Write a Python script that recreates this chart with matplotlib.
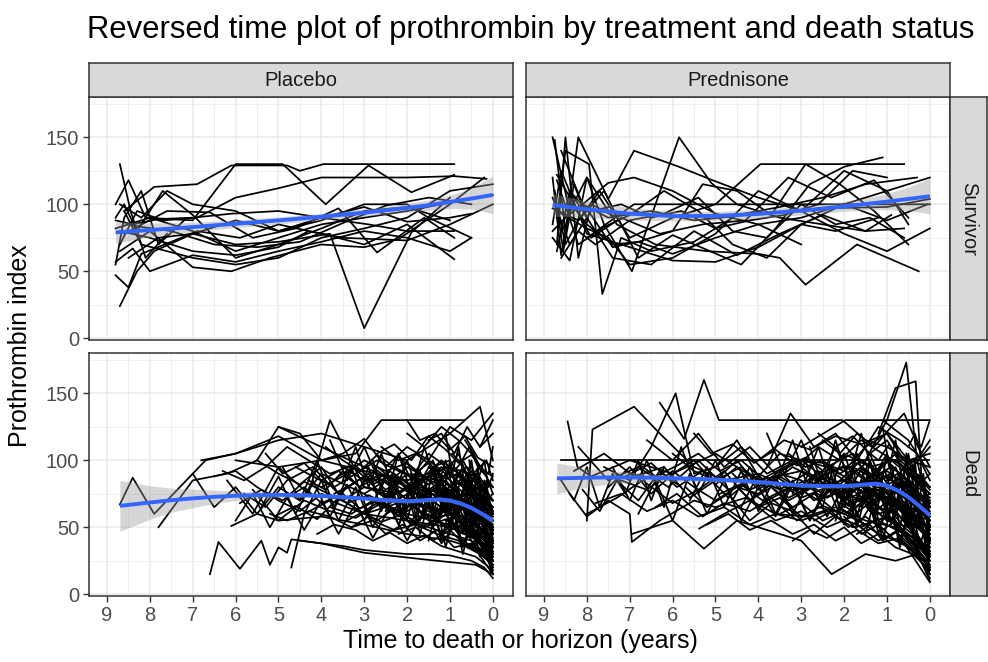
import numpy as np
import matplotlib.pyplot as plt

plt.rcParams['font.family'] = ['Liberation Sans', 'DejaVu Sans']

# --- Data (time to death/horizon in years, prothrombin index) ---

# Survivor / Placebo
surv_plac_t = [
    [8.8, 8.5, 8.1, 7.0, 6.0, 4.9, 3.9, 2.9, 1.9, 0.9],
    [8.6, 7.9, 6.9, 6.1, 4.8, 4.5, 3.95, 0.9],
    [8.8, 8.5, 8.2, 7.5, 6.9, 5.9, 5.0, 4.0, 3.0, 2.0, 0.9],
    [8.7, 8.3, 7.9, 7.0, 6.0, 5.0, 3.8, 3.0, 1.9, 1.0],
    [8.8, 8.6, 8.3, 7.7, 7.0, 6.0, 5.0, 4.0, 3.0, 2.0, 1.0],
    [8.7, 8.3, 7.7, 6.9, 6.0, 5.0, 4.0, 3.0, 2.0, 0.9, 0.15],
    [8.8, 8.4, 8.0, 7.0, 6.0, 5.0, 4.0, 3.0, 2.0, 1.0, 0.5],
    [8.7, 8.2, 7.6, 7.0, 6.0, 5.0, 4.0, 3.0, 2.0, 1.5, 0.5],
    [8.8, 8.4, 7.8, 7.0, 6.1, 5.0, 4.0, 2.9, 2.0, 0.9],
    [8.7, 8.0, 7.0, 6.0, 5.0, 4.3, 3.5, 2.0, 1.0, 0.0],
    [8.6, 8.2, 7.0, 6.0, 5.0, 4.0, 3.0, 2.0, 1.0, 0.0],
    [8.8, 8.0, 7.0, 6.0, 5.0, 4.0, 3.0, 2.0, 1.2, 0.0],
    [8.5, 7.8, 7.0, 6.0, 5.0, 4.0, 3.0, 2.0, 1.0, 0.5],
    [8.7, 8.0, 7.0, 6.1, 5.2, 4.0, 3.0, 2.2, 1.0, 0.2],
    [8.4, 7.5, 6.5, 5.5, 4.5, 3.5, 2.5, 1.5, 0.5],
    [8.6, 7.6, 6.6, 5.6, 4.6, 3.6, 2.7, 1.6, 0.9],
    [8.8, 8.6, 8.2, 7.8, 7.2],
    [8.7, 8.45, 8.1, 7.6],
]
surv_plac_y = [
    [100, 118, 90, 88, 130, 130, 100, 129, 109, 122],
    [95, 113, 115, 129, 129, 125, 130, 130],
    [47, 38, 63, 72, 80, 75, 85, 78, 70, 85, 59],
    [24, 50, 65, 78, 70, 72, 78, 7.5, 79, 105],
    [90, 100, 80, 110, 92, 60, 70, 82, 95, 98, 88],
    [70, 95, 88, 90, 105, 112, 120, 120, 120, 121, 119],
    [57, 67, 50, 62, 57, 65, 72, 80, 75, 65, 75],
    [100, 90, 110, 100, 95, 80, 88, 100, 100, 90, 75],
    [88, 85, 89, 90, 93, 95, 90, 85, 80, 80],
    [80, 75, 65, 62, 68, 80, 75, 73, 85, 100],
    [95, 70, 60, 55, 60, 75, 82, 90, 110, 115],
    [82, 90, 80, 65, 75, 85, 90, 95, 100, 107],
    [60, 75, 78, 88, 80, 90, 98, 87, 90, 93],
    [65, 80, 53, 50, 60, 70, 68, 74, 100, 120],
    [84, 80, 70, 68, 72, 86, 99, 105, 100],
    [78, 95, 94, 75, 82, 97, 64, 90, 75],
    [55, 90, 110, 70, 88],
    [130, 95, 60, 78],
]

# Survivor / Prednisone
surv_pred_t = [
    [8.8, 8.4, 8.0, 7.6, 6.95, 5.85, 5.1, 4.5, 3.5, 2.5, 1.5, 0.9],
    [8.75, 8.5, 8.2, 7.5, 6.9, 5.85, 5.07, 4.0, 3.0, 2.0, 1.0, 0.5],
    [8.7, 8.5, 7.95, 7.64, 7.2, 6.5, 5.5, 4.5, 3.5, 2.5, 1.5, 0.3],
    [8.8, 8.4, 8.0, 7.3, 6.4, 5.2, 4.0, 3.5, 2.9, 1.7, 0.26],
    [8.7, 8.5, 8.2, 7.7, 7.0, 6.0, 5.0, 3.95, 0.6],
    [8.0, 6.9, 5.0, 3.0, 1.0, 0.0],
    [8.7, 8.4, 8.1, 7.4, 6.5, 5.5, 4.5, 3.5, 2.5, 1.5, 0.6],
    [8.8, 8.6, 8.0, 7.0, 6.0, 5.0, 4.0, 3.0, 2.0, 1.0, 0.0],
    [8.7, 8.3, 7.9, 7.2, 6.3, 5.3, 4.3, 3.3, 2.3, 1.3, 0.5],
    [8.8, 8.2, 7.6, 6.8, 6.0, 5.2, 4.4, 3.6, 2.8, 2.0, 1.1],
    [8.6, 8.2, 7.8, 7.0, 6.2, 5.4, 4.6, 3.8, 3.0, 2.2, 1.4, 0.6],
    [8.8, 8.5, 8.1, 7.5, 6.9, 6.0, 5.0, 4.0, 3.0, 2.0, 1.0, 0.05],
    [8.6, 8.0, 7.5, 7.0, 6.0, 5.0, 4.0, 3.0, 2.0, 1.0, 0.0],
    [8.7, 8.2, 7.6, 7.0, 6.2, 5.4, 4.6, 3.8, 3.0, 2.2, 1.2],
    [8.4, 7.9, 7.4, 6.8, 6.0, 5.3, 4.5, 3.7, 2.9, 2.1, 1.3, 0.5],
    [8.8, 8.4, 7.9, 7.2, 6.5, 5.8, 5.0, 4.2, 3.4, 2.6, 1.8, 1.0],
    [8.6, 8.1, 7.5, 6.5, 5.5, 4.0, 2.5, 1.0, 0.0],
    [8.8, 8.6, 8.3, 8.0],
    [8.7, 8.5, 8.2, 7.9, 7.3],
    [8.75, 8.55, 8.35, 8.0, 7.4, 6.8, 6.0, 5.0, 4.0, 3.0],
]
surv_pred_y = [
    [150, 95, 120, 85, 50, 150, 116, 100, 90, 85, 80, 92],
    [148, 80, 150, 104, 140, 128, 118, 105, 95, 125, 110, 85],
    [90, 140, 130, 33, 75, 65, 72, 92, 98, 105, 115, 120],
    [75, 58, 120, 85, 70, 65, 63, 60, 40, 70, 50],
    [100, 70, 88, 110, 75, 90, 100, 130, 130],
    [75, 100, 100, 100, 100, 100],
    [65, 110, 95, 60, 55, 80, 62, 78, 92, 80, 82],
    [85, 125, 78, 68, 58, 57, 68, 85, 100, 110, 120],
    [122, 100, 75, 90, 78, 85, 88, 120, 105, 118, 90],
    [97, 88, 110, 60, 77, 66, 55, 82, 115, 128, 135],
    [60, 80, 70, 88, 93, 105, 80, 75, 100, 85, 90, 75],
    [80, 90, 100, 116, 120, 110, 93, 85, 90, 100, 88, 100],
    [93, 82, 75, 55, 60, 78, 110, 95, 78, 65, 82],
    [118, 70, 83, 92, 110, 95, 70, 60, 85, 80, 90],
    [110, 92, 68, 72, 80, 115, 110, 92, 130, 115, 95, 70],
    [105, 70, 95, 100, 90, 95, 82, 88, 92, 100, 125, 120],
    [140, 100, 90, 95, 88, 93, 97, 98, 104],
    [120, 62, 115, 90],
    [70, 150, 60, 100, 90],
    [110, 65, 100, 85, 70, 72, 63, 75, 85, 70],
]

# Dead / Placebo
dead_plac_t = [
    [8.7, 8.4, 7.9, 7.0, 6.7, 6.0, 5.0, 4.0, 3.0, 2.0, 1.0, 0.4, 0.0],
    [7.8, 7.0, 6.2, 5.5, 5.0, 4.0, 3.0, 2.0, 1.0, 0.5, 0.0],
    [6.6, 6.4, 5.9, 5.4, 5.2, 5.0, 4.8, 4.7, 4.0, 3.0, 1.6, 0.4, 0.0],
    [6.1, 5.5, 5.0, 4.5, 4.0, 3.0, 2.5, 2.0, 1.0, 0.5, 0.0],
    [4.7, 4.4, 3.8, 3.0, 2.0, 1.0, 0.5, 0.0],
    [6.0, 5.0, 4.0, 3.2, 2.6, 2.0, 1.2, 0.66],
    [6.8, 6.0, 5.0, 4.0, 3.0, 2.0, 1.0, 0.3, 0.0],
    [5.0, 4.5, 4.0, 3.5, 3.0, 2.5, 2.0, 1.5, 1.0, 0.5, 0.0],
    [7.0, 6.5, 6.0, 5.5, 5.0, 4.0, 3.0, 2.0, 1.0, 0.5, 0.0],
    [6.2, 5.6, 5.0, 4.3, 3.8, 3.0, 2.2, 1.4, 0.8, 0.3, 0.0],
    [5.5, 5.0, 4.5, 4.0, 3.5, 3.0, 2.5, 2.0, 1.5, 1.0, 0.5, 0.0],
    [4.5, 4.0, 3.5, 3.0, 2.0, 1.5, 1.0, 0.5, 0.2, 0.0],
    [3.5, 3.0, 2.5, 2.0, 1.5, 1.0, 0.6, 0.3, 0.0],
    [3.0, 2.6, 2.2, 1.8, 1.4, 1.0, 0.6, 0.3, 0.0],
    [2.5, 2.0, 1.5, 1.2, 0.8, 0.5, 0.2, 0.0],
    [2.0, 1.6, 1.2, 0.8, 0.5, 0.3, 0.1, 0.0],
    [1.9, 1.5, 1.1, 0.8, 0.5, 0.2, 0.0],
    [1.6, 1.2, 0.9, 0.6, 0.3, 0.1, 0.0],
    [1.3, 1.0, 0.7, 0.4, 0.2, 0.0],
    [1.0, 0.8, 0.5, 0.3, 0.1, 0.0],
    [0.8, 0.6, 0.4, 0.2, 0.0],
    [0.6, 0.4, 0.2, 0.0],
    [4.0, 3.5, 3.0, 2.5, 2.0, 1.5, 1.0, 0.5, 0.0],
    [5.8, 5.3, 4.8, 4.2, 3.6, 3.0, 2.4, 1.8, 1.2, 0.6, 0.0],
    [6.5, 6.0, 5.5, 5.0, 4.5, 4.0, 3.5, 3.0, 2.5, 2.0, 1.0, 0.0],
    [5.2, 4.8, 4.3, 3.8, 3.3, 2.8, 2.3, 1.8, 1.3, 0.8, 0.3, 0.0],
    [3.8, 3.3, 2.8, 2.3, 1.8, 1.3, 0.8, 0.4, 0.0],
    [2.8, 2.4, 2.0, 1.6, 1.2, 0.8, 0.4, 0.0],
    [1.5, 1.2, 0.9, 0.6, 0.3, 0.0],
    [2.2, 1.8, 1.4, 1.0, 0.6, 0.3, 0.0],
    [3.3, 2.9, 2.5, 2.1, 1.7, 1.3, 0.9, 0.5, 0.0],
    [4.3, 3.9, 3.5, 3.1, 2.7, 2.3, 1.9, 1.5, 1.1, 0.7, 0.3, 0.0],
    [1.2, 0.9, 0.6, 0.4, 0.2, 0.0],
    [0.9, 0.7, 0.5, 0.3, 0.15, 0.0],
    [0.5, 0.35, 0.2, 0.1, 0.0],
    [0.4, 0.25, 0.1, 0.0],
    [2.6, 2.2, 1.8, 1.4, 1.0, 0.7, 0.4, 0.0],
    [1.8, 1.5, 1.1, 0.7, 0.4, 0.0],
    [5.6, 5.0, 4.4, 3.8, 3.2, 2.6, 2.0, 1.4, 0.8, 0.0],
    [1.1, 0.85, 0.6, 0.35, 0.15, 0.0],
    [0.3, 0.15, 0.0],
    [0.7, 0.45, 0.25, 0.1, 0.0],
    [5.3, 4.9, 4.4, 4.0, 3.6, 3.1, 2.7, 2.2, 1.8, 1.3, 0.9, 0.5, 0.0],
    [4.8, 4.4, 4.0, 3.5, 3.1, 2.7, 2.3, 1.9, 1.5, 1.1, 0.7, 0.3, 0.0],
    [3.9, 3.5, 3.1, 2.7, 2.3, 1.9, 1.5, 1.1, 0.7, 0.3, 0.0],
    [3.4, 3.0, 2.6, 2.2, 1.8, 1.4, 1.0, 0.6, 0.3, 0.0],
    [2.9, 2.5, 2.1, 1.7, 1.3, 0.9, 0.5, 0.2, 0.0],
    [2.4, 2.0, 1.7, 1.3, 1.0, 0.7, 0.4, 0.2, 0.0],
    [2.1, 1.8, 1.5, 1.2, 0.9, 0.6, 0.3, 0.0],
    [1.7, 1.4, 1.1, 0.8, 0.5, 0.25, 0.0],
    [1.4, 1.1, 0.8, 0.5, 0.3, 0.1, 0.0],
    [1.2, 0.95, 0.7, 0.45, 0.25, 0.0],
    [0.95, 0.75, 0.55, 0.35, 0.15, 0.0],
    [0.75, 0.55, 0.35, 0.2, 0.0],
    [0.55, 0.4, 0.25, 0.1, 0.0],
    [0.45, 0.3, 0.15, 0.0],
    [0.35, 0.2, 0.1, 0.0],
    [0.25, 0.12, 0.0],
    [6.3, 5.8, 5.3, 4.8, 4.3, 3.8, 3.3, 2.8, 2.3, 1.8, 1.3, 0.8, 0.3, 0.0],
    [5.1, 4.6, 4.1, 3.6, 3.1, 2.6, 2.1, 1.6, 1.1, 0.6, 0.2, 0.0],
    [4.6, 4.2, 3.7, 3.2, 2.7, 2.2, 1.7, 1.2, 0.7, 0.3, 0.0],
    [3.7, 3.3, 2.9, 2.5, 2.1, 1.7, 1.3, 0.9, 0.5, 0.2, 0.0],
    [3.1, 2.7, 2.3, 1.9, 1.5, 1.1, 0.7, 0.4, 0.0],
    [2.7, 2.3, 1.9, 1.5, 1.1, 0.8, 0.5, 0.2, 0.0],
    [2.3, 1.9, 1.5, 1.1, 0.8, 0.5, 0.2, 0.0],
    [1.9, 1.6, 1.3, 1.0, 0.7, 0.4, 0.2, 0.0],
    [1.5, 1.25, 1.0, 0.75, 0.5, 0.25, 0.0],
    [1.0, 0.8, 0.6, 0.4, 0.2, 0.0],
    [0.85, 0.65, 0.45, 0.25, 0.1, 0.0],
    [0.65, 0.45, 0.3, 0.15, 0.0],
    [4.1, 3.7, 3.2, 2.8, 2.4, 2.0, 1.6, 1.2, 0.8, 0.4, 0.0],
    [5.9, 5.4, 4.9, 4.4, 3.9, 3.4, 2.9, 2.4, 1.9, 1.4, 0.9, 0.4, 0.0],
    [2.0, 1.7, 1.35, 1.0, 0.65, 0.35, 0.0],
    [3.6, 3.2, 2.8, 2.4, 2.0, 1.6, 1.2, 0.8, 0.4, 0.0],
    [1.3, 1.05, 0.8, 0.55, 0.3, 0.0],
    [0.6, 0.42, 0.25, 0.1, 0.0],
    [2.5, 2.2, 1.9, 1.6, 1.3, 1.0, 0.7, 0.4, 0.15, 0.0],
    [0.9, 0.7, 0.5, 0.3, 0.1, 0.0],
    [3.2, 2.9, 2.6, 2.3, 2.0, 1.7, 1.4, 1.1, 0.8, 0.5, 0.2, 0.0],
    [2.8, 2.5, 2.2, 1.9, 1.6, 1.3, 1.0, 0.7, 0.4, 0.2, 0.0],
    [2.2, 1.95, 1.7, 1.45, 1.2, 0.95, 0.7, 0.45, 0.2, 0.0],
    [1.8, 1.6, 1.4, 1.2, 1.0, 0.8, 0.6, 0.4, 0.2, 0.0],
    [1.5, 1.3, 1.1, 0.9, 0.7, 0.5, 0.3, 0.15, 0.0],
    [1.1, 0.95, 0.8, 0.65, 0.5, 0.35, 0.2, 0.0],
    [4.4, 4.0, 3.6, 3.2, 2.8, 2.4, 2.0, 1.6, 1.2, 0.8, 0.4, 0.0],
    [3.8, 3.4, 3.0, 2.6, 2.2, 1.8, 1.4, 1.0, 0.6, 0.3, 0.0],
    [5.4, 5.0, 4.6, 4.2, 3.8, 3.4, 3.0, 2.6, 2.2, 1.8, 1.4, 1.0, 0.6, 0.2, 0.0],
    [4.9, 4.5, 4.1, 3.7, 3.3, 2.9, 2.5, 2.1, 1.7, 1.3, 0.9, 0.5, 0.0],
    [0.8, 0.65, 0.5, 0.35, 0.2, 0.1, 0.0],
    [0.55, 0.45, 0.35, 0.25, 0.15, 0.05, 0.0],
    [2.0, 1.8, 1.6, 1.4, 1.2, 1.0, 0.8, 0.6, 0.4, 0.2, 0.0],
    [1.3, 1.15, 1.0, 0.85, 0.7, 0.55, 0.4, 0.25, 0.1, 0.0],
    [6.0, 5.6, 5.2, 4.8, 4.4, 4.0, 3.6, 3.2, 2.8, 2.4, 2.0, 1.6, 1.2, 0.8, 0.4, 0.0],
    [3.5, 3.2, 2.9, 2.6, 2.3, 2.0, 1.7, 1.4, 1.1, 0.8, 0.5, 0.2, 0.0],
    [0.45, 0.35, 0.25, 0.15, 0.05, 0.0],
    [2.5, 2.3, 2.1, 1.9, 1.7, 1.5, 1.3, 1.1, 0.9, 0.7, 0.5, 0.3, 0.1, 0.0],
]
dead_plac_y = [
    [67, 87, 60, 90, 100, 105, 118, 100, 92, 85, 95, 88, 60],
    [50, 85, 90, 100, 125, 110, 95, 80, 75, 60, 35],
    [15, 39, 19, 40, 22, 35, 31, 41, 38, 31, 26, 22, 15],
    [51, 60, 80, 70, 90, 75, 85, 70, 60, 50, 40],
    [20, 60, 70, 60, 55, 45, 40, 25],
    [100, 95, 100, 105, 130, 130, 130, 130],
    [100, 105, 115, 120, 110, 100, 120, 140, 100],
    [125, 120, 100, 105, 116, 95, 110, 100, 125, 115, 135],
    [90, 65, 80, 60, 55, 58, 52, 45, 40, 35, 28],
    [85, 60, 95, 75, 130, 80, 75, 90, 65, 55, 45],
    [100, 90, 82, 95, 70, 80, 75, 65, 72, 60, 48, 30],
    [40, 38, 36, 33, 30, 30, 29, 25, 20, 12],
    [95, 85, 90, 80, 70, 78, 60, 50, 40],
    [75, 65, 85, 70, 80, 65, 70, 55, 62],
    [60, 70, 55, 65, 45, 50, 35, 25],
    [120, 110, 125, 115, 105, 95, 90, 110],
    [85, 100, 90, 105, 80, 70, 50],
    [75, 85, 65, 70, 60, 55, 45],
    [90, 80, 95, 75, 65, 55],
    [70, 60, 75, 55, 40, 30],
    [100, 90, 85, 70, 60],
    [50, 45, 30, 18],
    [80, 88, 100, 92, 98, 85, 90, 75, 70],
    [75, 65, 85, 95, 75, 88, 68, 78, 65, 55, 50],
    [88, 92, 80, 70, 62, 75, 70, 60, 65, 55, 50, 35],
    [60, 55, 62, 58, 50, 55, 48, 52, 45, 40, 30, 22],
    [65, 60, 70, 62, 68, 58, 60, 52, 38],
    [95, 85, 95, 88, 100, 90, 80, 65],
    [115, 120, 105, 125, 110, 120],
    [45, 50, 40, 48, 35, 30, 25],
    [50, 58, 45, 52, 40, 48, 35, 38, 15],
    [85, 78, 92, 80, 95, 85, 90, 82, 88, 76, 70, 65],
    [60, 70, 62, 50, 45, 32],
    [80, 88, 78, 85, 70, 75],
    [95, 85, 100, 80, 90],
    [65, 55, 45, 38],
    [110, 100, 105, 95, 100, 85, 78, 55],
    [65, 75, 85, 70, 62, 48],
    [78, 55, 70, 62, 57, 68, 60, 55, 50, 40],
    [55, 60, 48, 42, 30, 20],
    [110, 120, 130],
    [40, 35, 30, 25, 15],
    [105, 90, 98, 85, 92, 80, 88, 76, 84, 72, 78, 65, 50],
    [72, 80, 68, 75, 64, 70, 60, 67, 58, 62, 52, 45, 35],
    [110, 100, 92, 104, 95, 88, 98, 86, 92, 80, 70],
    [55, 62, 70, 58, 66, 75, 62, 68, 55, 48],
    [80, 72, 78, 90, 82, 70, 76, 60, 52],
    [65, 58, 50, 56, 48, 52, 40, 35, 28],
    [100, 92, 105, 98, 88, 95, 85, 80],
    [70, 78, 66, 74, 60, 52, 42],
    [88, 95, 82, 78, 68, 62, 58],
    [45, 52, 40, 46, 35, 22],
    [105, 98, 110, 95, 88, 75],
    [72, 65, 70, 58, 45],
    [85, 78, 82, 70, 62],
    [58, 50, 42, 30],
    [90, 82, 75, 70],
    [68, 60, 48],
    [92, 85, 95, 110, 100, 90, 96, 82, 90, 78, 85, 70, 62, 55],
    [58, 66, 56, 72, 62, 54, 60, 50, 56, 44, 38, 25],
    [95, 88, 80, 90, 100, 92, 84, 95, 80, 72, 65],
    [75, 82, 90, 78, 86, 72, 80, 68, 62, 50, 40],
    [62, 55, 64, 52, 60, 50, 56, 42, 30],
    [105, 112, 100, 118, 108, 98, 104, 92, 88],
    [82, 75, 88, 80, 72, 78, 62, 50],
    [52, 60, 55, 62, 50, 45, 40, 32],
    [95, 88, 80, 90, 75, 68, 60],
    [65, 72, 80, 68, 58, 50],
    [48, 55, 42, 38, 30, 25],
    [115, 105, 95, 100, 85],
    [45, 52, 48, 40, 46, 38, 44, 36, 32, 28, 18],
    [68, 78, 70, 84, 76, 68, 74, 66, 72, 62, 68, 58, 48],
    [130, 115, 120, 108, 118, 102, 95],
    [88, 96, 84, 92, 80, 88, 76, 84, 70, 58],
    [78, 70, 64, 72, 55, 38],
    [35, 40, 30, 25, 20],
    [70, 76, 68, 80, 72, 64, 70, 60, 55, 45],
    [92, 100, 88, 96, 85, 80],
    [70, 95, 62, 88, 55, 92, 68, 100, 60, 85, 50, 40],
    [100, 70, 105, 75, 110, 80, 95, 65, 90, 55, 30],
    [50, 80, 45, 75, 40, 70, 35, 60, 30, 22],
    [90, 60, 95, 65, 100, 70, 85, 55, 70, 45],
    [40, 65, 35, 60, 30, 55, 28, 40, 15],
    [120, 90, 110, 80, 100, 70, 85, 60],
    [60, 85, 55, 80, 50, 78, 48, 72, 45, 65, 40, 28],
    [115, 85, 110, 80, 105, 78, 100, 70, 90, 65, 50],
    [65, 88, 60, 85, 58, 82, 55, 80, 52, 76, 50, 70, 45, 38, 30],
    [95, 70, 100, 65, 95, 60, 90, 58, 85, 55, 80, 50, 35],
    [60, 85, 50, 75, 45, 55, 35],
    [100, 70, 95, 65, 85, 55, 45],
    [75, 55, 80, 58, 85, 60, 78, 52, 70, 45, 35],
    [55, 75, 50, 72, 45, 68, 42, 60, 35, 25],
    [55, 75, 50, 72, 48, 70, 45, 68, 42, 65, 40, 62, 38, 55, 35, 25],
    [85, 110, 80, 105, 75, 100, 72, 95, 70, 90, 65, 80, 60],
    [75, 60, 70, 50, 55, 40],
    [62, 85, 58, 80, 55, 78, 52, 75, 50, 70, 48, 60, 40, 30],
]

# Dead / Prednisone
dead_pred_t = [
    [8.45, 8.22, 7.9, 7.0, 6.0, 5.0, 4.0, 3.0, 2.0, 1.0, 0.5, 0.0],
    [8.6, 4.5, 0.02],
    [8.0, 7.87, 6.9, 6.3, 5.5, 4.8, 4.0, 3.2, 2.4, 1.6, 0.8, 0.0],
    [8.4, 8.0, 7.5, 7.0, 6.95, 6.3, 5.5, 5.0, 4.3, 3.6, 2.9, 2.2, 1.5, 0.8, 0.0],
    [7.6, 7.0, 6.5, 5.93, 5.5, 5.0, 4.5, 4.0, 3.5, 3.0, 2.5, 2.0, 1.5, 1.0, 0.5, 0.0],
    [6.3, 5.73, 5.27, 4.92, 2.04, 1.5, 1.0, 0.5, 0.0],
    [3.0, 1.97, 0.02],
    [6.95, 6.0, 5.27, 4.5, 3.8, 3.0, 2.29, 1.5, 0.8, 0.3, 0.0],
    [5.38, 4.8, 4.2, 3.6, 3.0, 2.4, 1.8, 1.2, 0.6, 0.0],
    [1.5, 1.0, 0.55, 0.3, 0.0],
    [1.2, 0.8, 0.33, 0.2, 0.0],
    [3.8, 3.25, 2.7, 2.2, 1.7, 1.2, 0.7, 0.3, 0.0],
    [7.2, 6.6, 6.0, 5.5, 5.0, 4.5, 4.0, 3.5, 3.0, 2.5, 2.0, 1.5, 1.0, 0.5, 0.0],
    [8.3, 7.6, 6.9, 6.2, 5.6, 5.0, 4.4, 3.8, 3.2, 2.6, 2.0, 1.4, 0.8, 0.3, 0.0],
    [4.5, 4.0, 3.5, 3.0, 2.5, 2.0, 1.5, 1.0, 0.5, 0.2, 0.0],
    [3.5, 3.0, 2.5, 2.0, 1.5, 1.0, 0.6, 0.3, 0.0],
    [2.8, 2.4, 2.0, 1.6, 1.2, 0.8, 0.4, 0.0],
    [2.2, 1.8, 1.4, 1.0, 0.6, 0.3, 0.0],
    [1.8, 1.4, 1.0, 0.7, 0.4, 0.2, 0.0],
    [1.3, 1.0, 0.7, 0.4, 0.2, 0.0],
    [1.0, 0.75, 0.5, 0.25, 0.0],
    [0.7, 0.5, 0.3, 0.15, 0.0],
    [0.5, 0.35, 0.2, 0.0],
    [5.0, 4.4, 3.8, 3.2, 2.6, 2.0, 1.4, 0.8, 0.4, 0.0],
    [6.6, 6.0, 5.4, 4.8, 4.2, 3.6, 3.0, 2.4, 1.8, 1.2, 0.6, 0.0],
    [4.2, 3.7, 3.2, 2.7, 2.2, 1.7, 1.2, 0.7, 0.3, 0.0],
    [3.2, 2.8, 2.4, 2.0, 1.6, 1.2, 0.8, 0.4, 0.0],
    [2.5, 2.1, 1.7, 1.3, 0.9, 0.5, 0.2, 0.0],
    [1.6, 1.3, 1.0, 0.7, 0.4, 0.15, 0.0],
    [0.9, 0.6, 0.35, 0.15, 0.0],
    [7.8, 7.2, 6.6, 6.0, 5.4, 4.8, 4.2, 3.6, 3.0, 2.4, 1.8, 1.2, 0.6, 0.0],
    [8.2, 7.5, 6.8, 6.1, 5.4, 4.7, 4.0, 3.3, 2.6, 1.9, 1.2, 0.5, 0.0],
    [5.7, 5.2, 4.7, 4.2, 3.7, 3.2, 2.7, 2.2, 1.7, 1.2, 0.7, 0.2, 0.0],
    [0.4, 0.25, 0.1, 0.0],
    [0.3, 0.2, 0.1, 0.0],
    [1.1, 0.9, 0.6, 0.4, 0.2, 0.0],
    [4.0, 3.4, 2.8, 2.2, 1.6, 1.0, 0.5, 0.0],
    [2.0, 1.6, 1.2, 0.8, 0.5, 0.25, 0.0],
    [6.0, 5.5, 5.0, 4.5, 4.0, 3.5, 3.0, 2.5, 2.0, 1.5, 1.0, 0.5, 0.0],
    [3.6, 3.1, 2.6, 2.1, 1.6, 1.1, 0.6, 0.3, 0.0],
    [7.5, 7.0, 6.5, 6.0, 5.5, 5.0, 4.5, 4.0, 3.5, 3.0, 2.5, 2.0, 1.5, 1.0, 0.5, 0.0],
    [8.0, 7.3, 6.7, 6.0, 5.4, 4.8, 4.2, 3.6, 3.0, 2.4, 1.8, 1.2, 0.6, 0.0],
    [6.9, 6.4, 5.9, 5.4, 4.9, 4.4, 3.9, 3.4, 2.9, 2.4, 1.9, 1.4, 0.9, 0.4, 0.0],
    [6.4, 5.9, 5.3, 4.8, 4.2, 3.7, 3.1, 2.6, 2.0, 1.5, 1.0, 0.5, 0.0],
    [5.5, 5.1, 4.6, 4.1, 3.6, 3.1, 2.6, 2.1, 1.6, 1.1, 0.6, 0.2, 0.0],
    [4.6, 4.2, 3.7, 3.3, 2.8, 2.4, 1.9, 1.5, 1.0, 0.6, 0.2, 0.0],
    [3.9, 3.5, 3.1, 2.7, 2.3, 1.9, 1.5, 1.1, 0.7, 0.3, 0.0],
    [3.3, 2.9, 2.5, 2.1, 1.7, 1.3, 0.9, 0.5, 0.2, 0.0],
    [2.7, 2.3, 1.9, 1.5, 1.1, 0.8, 0.5, 0.25, 0.0],
    [2.3, 2.0, 1.6, 1.3, 0.9, 0.6, 0.3, 0.0],
    [1.9, 1.6, 1.3, 1.0, 0.7, 0.4, 0.2, 0.0],
    [1.5, 1.2, 0.95, 0.7, 0.45, 0.2, 0.0],
    [1.25, 1.0, 0.75, 0.5, 0.3, 0.1, 0.0],
    [0.95, 0.75, 0.55, 0.35, 0.15, 0.0],
    [0.8, 0.6, 0.4, 0.2, 0.0],
    [0.6, 0.45, 0.3, 0.15, 0.0],
    [0.45, 0.3, 0.15, 0.0],
    [0.35, 0.2, 0.08, 0.0],
    [4.9, 4.4, 3.9, 3.4, 2.9, 2.4, 1.9, 1.4, 0.9, 0.4, 0.0],
    [3.0, 2.6, 2.2, 1.8, 1.4, 1.0, 0.6, 0.3, 0.0],
    [2.1, 1.8, 1.5, 1.2, 0.9, 0.6, 0.3, 0.0],
    [1.4, 1.15, 0.9, 0.65, 0.4, 0.2, 0.0],
    [7.1, 6.5, 5.9, 5.3, 4.7, 4.1, 3.5, 2.9, 2.3, 1.7, 1.1, 0.5, 0.0],
    [8.1, 7.7, 7.3, 6.8, 6.3, 5.8],
    [5.2, 4.7, 4.2, 3.7, 3.2, 2.7, 2.2, 1.7, 1.2, 0.7, 0.3, 0.0],
    [2.6, 2.2, 1.8, 1.4, 1.0, 0.7, 0.4, 0.15, 0.0],
    [1.7, 1.4, 1.1, 0.8, 0.5, 0.25, 0.0],
    [1.0, 0.8, 0.6, 0.4, 0.2, 0.0],
    [0.7, 0.5, 0.3, 0.1, 0.0],
    [3.5, 3.0, 2.5, 2.0, 1.5, 1.0, 0.5, 0.0],
    [3.2, 2.9, 2.6, 2.3, 2.0, 1.7, 1.4, 1.1, 0.8, 0.5, 0.2, 0.0],
    [2.8, 2.5, 2.2, 1.9, 1.6, 1.3, 1.0, 0.7, 0.4, 0.2, 0.0],
    [2.2, 1.95, 1.7, 1.45, 1.2, 0.95, 0.7, 0.45, 0.2, 0.0],
    [1.8, 1.6, 1.4, 1.2, 1.0, 0.8, 0.6, 0.4, 0.2, 0.0],
    [1.5, 1.3, 1.1, 0.9, 0.7, 0.5, 0.3, 0.15, 0.0],
    [1.1, 0.95, 0.8, 0.65, 0.5, 0.35, 0.2, 0.0],
    [4.4, 4.0, 3.6, 3.2, 2.8, 2.4, 2.0, 1.6, 1.2, 0.8, 0.4, 0.0],
    [3.8, 3.4, 3.0, 2.6, 2.2, 1.8, 1.4, 1.0, 0.6, 0.3, 0.0],
    [5.6, 5.2, 4.8, 4.4, 4.0, 3.6, 3.2, 2.8, 2.4, 2.0, 1.6, 1.2, 0.8, 0.4, 0.0],
    [7.4, 7.0, 6.6, 6.2, 5.8, 5.4, 5.0, 4.6, 4.2, 3.8],
    [6.8, 6.4, 6.0, 5.6, 5.2, 4.8, 4.4, 4.0, 3.6, 3.2, 2.8, 2.4],
    [0.8, 0.65, 0.5, 0.35, 0.2, 0.1, 0.0],
    [0.55, 0.45, 0.35, 0.25, 0.15, 0.05, 0.0],
    [2.0, 1.8, 1.6, 1.4, 1.2, 1.0, 0.8, 0.6, 0.4, 0.2, 0.0],
    [1.3, 1.15, 1.0, 0.85, 0.7, 0.55, 0.4, 0.25, 0.1, 0.0],
    [3.5, 3.2, 2.9, 2.6, 2.3, 2.0, 1.7, 1.4, 1.1, 0.8, 0.5, 0.2, 0.0],
    [8.6, 8.3, 8.0, 7.7, 7.4, 7.1, 6.8, 6.5, 6.2],
    [2.5, 2.3, 2.1, 1.9, 1.7, 1.5, 1.3, 1.1, 0.9, 0.7, 0.5, 0.3, 0.1, 0.0],
]
dead_pred_y = [
    [129, 95, 88, 100, 90, 105, 85, 92, 80, 88, 75, 60],
    [100, 100, 100],
    [55, 123, 140, 120, 95, 85, 90, 78, 82, 70, 60, 45],
    [75, 58, 70, 60, 39, 55, 70, 65, 72, 60, 58, 65, 55, 50, 35],
    [95, 85, 110, 150, 90, 95, 115, 88, 105, 100, 98, 92, 110, 120, 95, 80],
    [143, 116, 160, 130, 130, 115, 110, 100, 95],
    [110, 130, 130],
    [45, 55, 34, 55, 48, 40, 15, 30, 25, 30, 12],
    [49, 60, 70, 55, 62, 50, 58, 45, 38, 9],
    [100, 130, 173, 100, 60],
    [120, 154, 159, 90, 40],
    [95, 135, 110, 120, 100, 125, 115, 105, 85],
    [85, 78, 92, 80, 70, 80, 75, 88, 78, 82, 85, 75, 80, 70, 55],
    [92, 105, 88, 95, 72, 85, 95, 80, 95, 85, 75, 88, 78, 65, 70],
    [80, 65, 72, 58, 66, 60, 70, 55, 50, 40, 28],
    [60, 68, 55, 62, 52, 58, 45, 35, 20],
    [85, 95, 88, 100, 92, 105, 95, 110],
    [70, 62, 75, 68, 55, 50, 42],
    [95, 88, 100, 90, 80, 72, 65],
    [60, 70, 58, 50, 40, 25],
    [85, 90, 78, 70, 55],
    [65, 55, 60, 48, 35],
    [110, 120, 105, 115],
    [95, 110, 90, 100, 85, 105, 95, 100, 88, 75],
    [115, 100, 120, 95, 110, 90, 100, 95, 105, 90, 80, 65],
    [70, 80, 65, 75, 62, 72, 60, 65, 52, 45],
    [40, 48, 42, 50, 38, 45, 35, 30, 18],
    [115, 105, 120, 110, 125, 115, 100, 90],
    [50, 55, 42, 48, 35, 28, 15],
    [100, 92, 85, 78, 68],
    [68, 75, 62, 70, 58, 65, 52, 60, 55, 62, 50, 55, 45, 30],
    [110, 85, 95, 80, 100, 78, 88, 70, 82, 72, 80, 62, 50],
    [80, 65, 75, 55, 68, 62, 45, 58, 52, 40, 48, 30, 22],
    [75, 68, 60, 50],
    [45, 38, 30, 20],
    [130, 125, 135, 120, 110, 130],
    [100, 115, 108, 118, 112, 120, 100, 105],
    [58, 45, 52, 40, 35, 28, 10],
    [105, 92, 85, 100, 80, 92, 75, 88, 70, 85, 72, 65, 58],
    [88, 78, 92, 82, 95, 80, 88, 70, 75],
    [80, 95, 75, 90, 100, 82, 95, 78, 90, 85, 72, 88, 78, 70, 62, 50],
    [60, 72, 85, 68, 78, 92, 70, 85, 72, 80, 68, 75, 60, 40],
    [100, 88, 96, 105, 92, 100, 86, 95, 102, 90, 96, 84, 90, 78, 70],
    [65, 75, 58, 68, 62, 72, 55, 65, 60, 52, 58, 45, 32],
    [120, 105, 112, 98, 108, 96, 110, 100, 115, 105, 95, 88, 80],
    [90, 78, 85, 72, 80, 88, 76, 82, 70, 64, 52, 40],
    [68, 75, 82, 70, 78, 66, 74, 62, 68, 55, 48],
    [105, 95, 100, 90, 98, 88, 95, 85, 78, 72],
    [55, 62, 50, 58, 48, 55, 42, 35, 25],
    [92, 85, 95, 82, 90, 78, 70, 62],
    [75, 82, 70, 78, 65, 58, 50, 38],
    [108, 100, 112, 98, 90, 85, 78],
    [62, 55, 60, 50, 44, 35, 28],
    [88, 80, 85, 72, 65, 55],
    [50, 45, 38, 30, 22],
    [95, 100, 88, 80, 75],
    [70, 62, 55, 45],
    [115, 105, 100, 95],
    [75, 82, 70, 78, 85, 72, 80, 68, 74, 60, 48],
    [78, 70, 76, 64, 72, 60, 66, 52, 42],
    [65, 58, 66, 55, 62, 50, 42, 30],
    [82, 90, 78, 85, 70, 62, 52],
    [88, 98, 80, 92, 72, 88, 78, 90, 76, 84, 72, 66, 58],
    [78, 62, 85, 70, 92, 80],
    [52, 60, 48, 55, 45, 52, 40, 48, 38, 42, 30, 20],
    [120, 110, 118, 105, 115, 100, 92, 85, 90],
    [45, 52, 40, 47, 38, 30, 18],
    [72, 80, 68, 75, 62, 55],
    [40, 35, 28, 20, 15],
    [92, 100, 88, 96, 85, 92, 80, 68],
    [75, 100, 70, 95, 65, 105, 72, 98, 65, 88, 55, 45],
    [110, 80, 115, 85, 120, 88, 105, 75, 95, 60, 40],
    [55, 85, 50, 80, 45, 75, 40, 65, 35, 25],
    [95, 65, 100, 70, 105, 75, 90, 60, 75, 50],
    [45, 70, 40, 65, 35, 60, 30, 45, 18],
    [125, 95, 115, 85, 105, 75, 90, 65],
    [65, 90, 60, 85, 55, 82, 52, 78, 50, 70, 45, 32],
    [120, 90, 115, 85, 110, 82, 105, 75, 95, 70, 55],
    [70, 95, 65, 92, 62, 88, 60, 85, 58, 80, 55, 75, 50, 42, 30],
    [95, 70, 100, 65, 110, 75, 100, 70, 95, 68],
    [60, 85, 55, 90, 60, 85, 55, 80, 58, 82, 55, 78],
    [65, 90, 55, 80, 50, 60, 40],
    [105, 75, 100, 70, 90, 60, 50],
    [80, 60, 85, 62, 90, 65, 82, 58, 75, 50, 38],
    [60, 80, 55, 78, 50, 72, 46, 65, 38, 28],
    [90, 115, 85, 110, 80, 105, 78, 100, 75, 95, 70, 85, 65],
    [85, 70, 95, 65, 90, 75, 100, 70, 95],
    [65, 90, 62, 85, 58, 82, 55, 80, 52, 75, 50, 65, 42, 32],
]

# loess smooth: time, fit, lower, upper
surv_plac_smooth_t = [8.8, 8.0, 7.0, 6.0, 5.0, 4.0, 3.0, 2.5, 2.0, 1.5, 1.0, 0.5, 0.0]
surv_plac_fit = [79, 80.8, 83, 85.5, 88, 90.7, 93.8, 95.5, 97.3, 99.3, 101.8, 104.3, 107]
surv_plac_lo = [71, 75.5, 79.5, 82.6, 85.4, 88.2, 91.0, 92.6, 94.0, 95.5, 96.8, 96.5, 93]
surv_plac_hi = [87, 86.1, 86.5, 88.4, 90.6, 93.2, 96.6, 98.4, 100.6, 103.1, 106.8, 112.1, 121]

surv_pred_smooth_t = [8.8, 8.0, 7.0, 6.0, 5.0, 4.0, 3.0, 2.5, 2.0, 1.5, 1.0, 0.5, 0.0]
surv_pred_fit = [99.5, 96.3, 93, 91.2, 91.3, 92.8, 95.3, 96.8, 98.5, 100.2, 102, 104, 106]
surv_pred_lo = [91, 90.3, 88.3, 87.6, 88.0, 89.5, 92.0, 93.4, 94.8, 95.8, 96.0, 95.2, 93]
surv_pred_hi = [108, 102.3, 97.7, 94.8, 94.6, 96.1, 98.6, 100.2, 102.2, 104.6, 108, 112.8, 119.5]

dead_plac_smooth_t = [8.7, 8.0, 7.5, 7.0, 6.5, 6.0, 5.5, 5.0, 4.5, 4.0, 3.5, 3.0, 2.5, 2.0,
                      1.75, 1.5, 1.25, 1.0, 0.75, 0.5, 0.25, 0.0]
dead_plac_fit = [66, 68.5, 70.2, 71.6, 72.7, 73.5, 74.0, 74.2, 74.0, 73.4, 72.5, 71.5, 70.3,
                 69.5, 69.8, 70.5, 70.8, 70.0, 67.8, 64.5, 60.0, 55.0]
dead_plac_lo = [47, 56, 61.2, 64.6, 67.7, 70.0, 71.5, 72.2, 72.3, 71.9, 71.0, 70.0, 68.8,
                68.0, 68.3, 69.0, 69.3, 68.5, 66.3, 63.0, 58.3, 52.5]
dead_plac_hi = [85, 81, 79.2, 78.6, 77.7, 77.0, 76.5, 76.2, 75.7, 74.9, 74.0, 73.0, 71.8,
                71.0, 71.3, 72.0, 72.3, 71.5, 69.3, 66.0, 61.7, 57.5]

dead_pred_smooth_t = [8.7, 8.0, 7.5, 7.0, 6.5, 6.0, 5.5, 5.0, 4.5, 4.0, 3.5, 3.0, 2.5, 2.0,
                      1.75, 1.5, 1.25, 1.0, 0.75, 0.5, 0.25, 0.0]
dead_pred_fit = [86.5, 87, 87.2, 87.2, 87, 86.6, 86.2, 85.6, 84.8, 83.8, 82.5, 81.3, 80.7,
                 80.8, 81.3, 82.0, 82.6, 81.0, 77.5, 72.5, 66.0, 59.0]
dead_pred_lo = [75, 80, 82.2, 83.2, 84, 84.1, 84.2, 83.8, 83.2, 82.3, 81.0, 79.8, 79.2,
                79.3, 79.8, 80.5, 81.1, 79.5, 76.0, 71.0, 64.3, 57.0]
dead_pred_hi = [98, 94, 92.2, 91.2, 90, 89.1, 88.2, 87.4, 86.4, 85.3, 84.0, 82.8, 82.2,
                82.3, 82.8, 83.5, 84.1, 82.5, 79.0, 74.0, 67.7, 61.0]

col_labels = ['Placebo', 'Prednisone']
row_labels = ['Survivor', 'Dead']

panels = {
    (0, 0): (surv_plac_t, surv_plac_y, surv_plac_smooth_t, surv_plac_fit, surv_plac_lo, surv_plac_hi),
    (0, 1): (surv_pred_t, surv_pred_y, surv_pred_smooth_t, surv_pred_fit, surv_pred_lo, surv_pred_hi),
    (1, 0): (dead_plac_t, dead_plac_y, dead_plac_smooth_t, dead_plac_fit, dead_plac_lo, dead_plac_hi),
    (1, 1): (dead_pred_t, dead_pred_y, dead_pred_smooth_t, dead_pred_fit, dead_pred_lo, dead_pred_hi),
}

# --- Layout in pixels ---
W, H = 988, 662
fig = plt.figure(figsize=(W / 100, H / 100), dpi=100)


def px_axes(x0, y0, x1, y1):
    return fig.add_axes([x0 / W, 1 - y1 / H, (x1 - x0) / W, (y1 - y0) / H])


col_px = [(89, 513), (526, 950)]
row_px = [(97, 340), (353, 596)]
border = '#333333'

for (r, c), (ts, ys, st, fit, lo, hi) in panels.items():
    ax = px_axes(col_px[c][0], row_px[r][0], col_px[c][1], row_px[r][1])
    for t, y in zip(ts, ys):
        ax.plot(t, y, color='black', lw=1.25, zorder=2)
    ax.fill_between(st, lo, hi, color='#999999', alpha=0.4, lw=0, zorder=3)
    ax.plot(st, fit, color='#3366FF', lw=2.8, zorder=4, solid_capstyle='butt')

    ax.set_xlim(9.42, -0.47)
    ax.set_ylim(-1.3, 180.1)
    ax.set_xticks(range(10))
    ax.set_xticks(np.arange(0.5, 9.5, 1), minor=True)
    ax.set_yticks([0, 50, 100, 150])
    ax.set_yticks([25, 75, 125, 175], minor=True)
    ax.grid(which='major', color='#EBEBEB', lw=1.1, zorder=0)
    ax.grid(which='minor', color='#EBEBEB', lw=0.55, zorder=0)
    ax.set_axisbelow(True)
    for s in ax.spines.values():
        s.set_color(border)
        s.set_linewidth(1.1)
    ax.tick_params(which='minor', length=0)
    ax.tick_params(which='major', length=4, width=1.0, color=border,
                   labelsize=14.5, labelcolor='#4D4D4D', pad=3)
    if r == 0:
        ax.tick_params(axis='x', length=0, labelbottom=False)
    if c == 1:
        ax.tick_params(axis='y', length=0, labelleft=False)

# strips
for c, lab in enumerate(col_labels):
    sa = px_axes(col_px[c][0], 63, col_px[c][1], 97)
    sa.set_facecolor('#D9D9D9')
    sa.set_xticks([])
    sa.set_yticks([])
    for s in sa.spines.values():
        s.set_color(border)
        s.set_linewidth(1.1)
    sa.text(0.5, 0.5, lab, ha='center', va='center', fontsize=14.5, color='#1A1A1A',
            transform=sa.transAxes)

for r, lab in enumerate(row_labels):
    sa = px_axes(950, row_px[r][0], 987, row_px[r][1])
    sa.set_facecolor('#D9D9D9')
    sa.set_xticks([])
    sa.set_yticks([])
    for s in sa.spines.values():
        s.set_color(border)
        s.set_linewidth(1.1)
    sa.text(0.5, 0.5, lab, ha='center', va='center', fontsize=14.5, color='#1A1A1A',
            rotation=-90, transform=sa.transAxes)

fig.text(531 / W, 1 - 30 / H, 'Reversed time plot of prothrombin by treatment and death status',
         ha='center', va='center', fontsize=22.3)
fig.text(520 / W, 1 - 641 / H, 'Time to death or horizon (years)',
         ha='center', va='center', fontsize=18)
fig.text(20 / W, 1 - 346 / H, 'Prothrombin index', ha='center', va='center',
         rotation=90, fontsize=18)

fig.savefig('out.png', dpi=100)
